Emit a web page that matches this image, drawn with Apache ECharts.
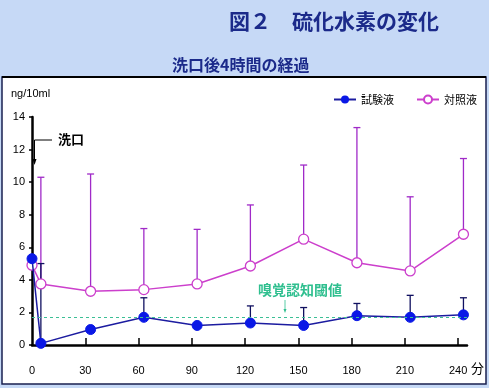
<!DOCTYPE html>
<html><head><meta charset="utf-8">
<script src="https://cdn.jsdelivr.net/npm/echarts@6/dist/echarts.min.js"></script>
<style>html,body{margin:0;padding:0;background:#c6d9f6;}#c{width:489px;height:388px;}</style>
</head><body><div id="c"></div>
<script>
var times = [0, 5, 33, 63, 93, 123, 153, 183, 213, 243];
var testValues = [5.3, 0.1, 0.95, 1.7, 1.2, 1.35, 1.2, 1.8, 1.7, 1.85];
var testUpper = [null, 5.0, null, 2.9, null, 2.4, 2.3, 2.55, 3.05, 2.9];
var controlValues = [4.9, 3.75, 3.3, 3.4, 3.75, 4.85, 6.5, 5.05, 4.55, 6.8];
var controlUpper = [null, 10.3, 10.5, 7.15, 7.1, 8.6, 11.05, 13.35, 9.1, 11.45];
var xTicks = [0, 30, 60, 90, 120, 150, 180, 210, 240];
var threshold = 1.7;
var seriesNames = ['試験液', '対照液'];

var chart = echarts.init(document.getElementById('c'));
var CJK = '"Noto Sans CJK JP", sans-serif';
var NUM = '"Liberation Sans Narrow", "Liberation Sans", Arial, sans-serif';

function pairs(xs, ys) { return xs.map(function (x, i) { return [x, ys[i]]; }); }
function errData(xs, ys, ups) {
  var out = [];
  xs.forEach(function (x, i) { if (ups[i] != null) out.push([x, ys[i], ups[i]]); });
  return out;
}
function errRender(color) {
  return function (params, api) {
    var p0 = api.coord([api.value(0), api.value(1)]);
    var p1 = api.coord([api.value(0), api.value(2)]);
    var st = { stroke: color, lineWidth: 1.3 };
    return { type: 'group', children: [
      { type: 'line', shape: { x1: p0[0], y1: p0[1], x2: p1[0], y2: p1[1] }, style: st },
      { type: 'line', shape: { x1: p1[0] - 3.5, y1: p1[1], x2: p1[0] + 3.5, y2: p1[1] }, style: st }
    ]};
  };
}

chart.setOption({
  backgroundColor: '#c6d9f6',
  animation: false,
  title: [
    { text: '図２　硫化水素の変化', left: 229, top: 11, padding: 0,
      textStyle: { fontFamily: CJK, fontSize: 21, fontWeight: 'bold', color: '#1b2a8a' } },
    { text: '洗口後4時間の経過', left: 172, top: 56, padding: 0,
      textStyle: { fontFamily: CJK, fontSize: 16, fontWeight: 'bold', color: '#1b2a8a', lineHeight: 18 } }
  ],
  legend: {
    orient: 'horizontal', left: 333, top: 94, width: 200, padding: 0,
    itemWidth: 22, itemHeight: 10, itemGap: 22,
    data: seriesNames,
    textStyle: { fontFamily: CJK, fontSize: 11, color: '#000' }
  },
  grid: { left: 32, right: 22, top: 117, bottom: 43 },
  xAxis: {
    type: 'value', min: 0, max: 245,
    axisLine: { lineStyle: { color: '#000', width: 2.5 } },
    axisTick: { inside: true, length: 7, customValues: xTicks.slice(1), lineStyle: { color: '#000', width: 1.5 } },
    axisLabel: { customValues: xTicks, margin: 20, fontFamily: NUM, fontSize: 11, color: '#000' },
    splitLine: { show: false }
  },
  yAxis: {
    type: 'value', min: 0, max: 14, interval: 2,
    axisLine: { show: true, lineStyle: { color: '#000', width: 2.5 } },
    axisTick: { show: true, length: 3, lineStyle: { color: '#000', width: 1.5 } },
    axisLabel: { margin: 7, fontFamily: NUM, fontSize: 11, color: '#000' },
    splitLine: { show: false }
  },
  graphic: [
    { type: 'rect', shape: { x: 2, y: 77, width: 484, height: 307 },
      style: { fill: '#fff', stroke: '#1a2050', lineWidth: 1.5 }, z: -10 },
    { type: 'line', shape: { x1: 2, y1: 77, x2: 486, y2: 77 }, style: { stroke: '#000', lineWidth: 2 }, z: -9 },
    { type: 'text', left: 11, top: 88, style: { text: 'ng/10ml', font: '11px ' + NUM, fill: '#000' } },
    { type: 'text', left: 471, top: 362, style: { text: '分', font: '13px ' + CJK, fill: '#000' } },
    { type: 'polyline', shape: { points: [[52, 140], [34.5, 140], [34.5, 160]] }, style: { stroke: '#000', lineWidth: 1, fill: null } },
    { type: 'polygon', shape: { points: [[32.5, 159], [36.5, 159], [34.5, 165]] }, style: { fill: '#000' } },
    { type: 'text', left: 58, top: 133, style: { text: '洗口', font: 'bold 13px ' + CJK, fill: '#000' } },
    { type: 'text', left: 258, top: 283, style: { text: '嗅覚認知閾値', font: 'bold 14px ' + CJK, fill: '#2fbf8f' } },
    { type: 'line', shape: { x1: 285, y1: 300, x2: 285, y2: 310 }, style: { stroke: '#2fbf8f', lineWidth: 0.8 } },
    { type: 'polygon', shape: { points: [[283.5, 309], [286.5, 309], [285, 313]] }, style: { fill: '#2fbf8f' } }
  ],
  series: [
    { name: 'err2', type: 'custom', renderItem: errRender('#a02ac8'), data: errData(times, controlValues, controlUpper), z: 1, silent: true },
    { name: 'err1', type: 'custom', renderItem: errRender('#101060'), data: errData(times, testValues, testUpper), z: 1, silent: true },
    { name: seriesNames[1], type: 'line', data: pairs(times, controlValues), z: 3,
      symbol: 'circle', symbolSize: 10,
      lineStyle: { color: '#cc3fcc', width: 1.5 },
      itemStyle: { color: '#fff', borderColor: '#cc3fcc', borderWidth: 1.3 } },
    { name: seriesNames[0], type: 'line', data: pairs(times, testValues), z: 4,
      symbol: 'circle', symbolSize: 10,
      lineStyle: { color: '#1c1ca0', width: 1.5 },
      itemStyle: { color: '#0a18e6', borderColor: '#0a18e6' },
      markLine: { symbol: 'none', silent: true, label: { show: false },
        lineStyle: { color: '#3cbf95', type: [3, 3], width: 1 },
        data: [[{ coord: [0, threshold] }, { coord: [245, threshold] }]] } }
  ]
});
</script>
</body></html>
